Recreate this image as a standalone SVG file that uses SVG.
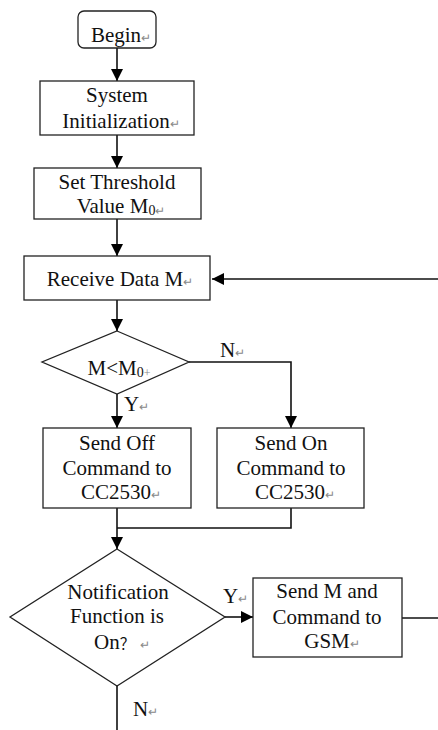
<svg xmlns="http://www.w3.org/2000/svg" width="438" height="730" viewBox="0 0 438 730">
<defs>
<marker id="ah" viewBox="0 0 12 12" refX="12" refY="6" markerWidth="12" markerHeight="12" markerUnits="userSpaceOnUse" orient="auto">
<path d="M0,0 L12,6 L0,12 Z" fill="#000"/>
</marker>
</defs>
<style>
.box{fill:#fff;stroke:#222;stroke-width:1.3}
.t{font-family:"Liberation Serif","Times New Roman",serif;font-size:21px;fill:#111;text-anchor:middle}
.lbl{font-family:"Liberation Serif","Times New Roman",serif;font-size:21px;fill:#111}
.cjk{font-family:"Noto Sans CJK SC",sans-serif;font-size:15px}
.pm{font-size:12px;fill:#888}
.sub{font-size:14px}
.c{fill:none;stroke:#111;stroke-width:1.6}
</style>
<rect width="438" height="730" fill="#fff"/>
<g id="connectors">
<line class="c" x1="117" y1="48" x2="117" y2="81" marker-end="url(#ah)"/>
<line class="c" x1="117" y1="135" x2="117" y2="168" marker-end="url(#ah)"/>
<line class="c" x1="117" y1="219" x2="117" y2="256" marker-end="url(#ah)"/>
<line class="c" x1="117" y1="300" x2="117" y2="331" marker-end="url(#ah)"/>
<line class="c" x1="117" y1="394" x2="117" y2="428" marker-end="url(#ah)"/>
<polyline class="c" points="189,362 291,362 291,428" marker-end="url(#ah)"/>
<polyline class="c" points="291,508 291,528 117,528"/>
<line class="c" x1="117" y1="508" x2="117" y2="549" marker-end="url(#ah)"/>
<line class="c" x1="225" y1="617" x2="253" y2="617" marker-end="url(#ah)"/>
<line class="c" x1="402" y1="618" x2="438" y2="618"/>
<line class="c" x1="438" y1="279" x2="212" y2="279" marker-end="url(#ah)"/>
<line class="c" x1="117" y1="686" x2="117" y2="730"/>
<text class="lbl" x="220" y="357">N<tspan class="pm">↵</tspan></text>
<text class="lbl" x="124" y="411">Y<tspan class="pm">↵</tspan></text>
<text class="lbl" x="223" y="603">Y<tspan class="pm">↵</tspan></text>
<text class="lbl" x="133" y="716">N<tspan class="pm">↵</tspan></text>
</g>
<g id="begin">
<rect class="box" x="78" y="11" width="78" height="37" rx="6"/>
<text class="t" x="121" y="42">Begin<tspan class="pm">↵</tspan></text>
</g>
<g id="init">
<rect class="box" x="40" y="81" width="154" height="54"/>
<text class="t" x="117" y="102">System</text>
<text class="t" x="121" y="128">Initialization<tspan class="pm">↵</tspan></text>
</g>
<g id="threshold">
<rect class="box" x="34" y="168" width="167" height="51"/>
<text class="t" x="117" y="189">Set Threshold</text>
<text class="t" x="121" y="213">Value M<tspan class="sub" dy="2">0</tspan><tspan class="pm">↵</tspan></text>
</g>
<g id="receive">
<rect class="box" x="24" y="256" width="186" height="44"/>
<text class="t" x="120" y="286">Receive Data M<tspan class="pm">↵</tspan></text>
</g>
<g id="compare">
<polygon class="box" points="117,331 189,362 117,394 42,362"/>
<text class="t" x="119" y="375">M&lt;M<tspan class="sub" dy="2">0</tspan><tspan class="pm">+</tspan></text>
</g>
<g id="sendoff">
<rect class="box" x="43" y="428" width="148" height="80"/>
<text class="t" x="117" y="450">Send Off</text>
<text class="t" x="117" y="475">Command to</text>
<text class="t" x="121" y="499">CC2530<tspan class="pm">↵</tspan></text>
</g>
<g id="sendon">
<rect class="box" x="217" y="428" width="147" height="80"/>
<text class="t" x="291" y="450">Send On</text>
<text class="t" x="291" y="475">Command to</text>
<text class="t" x="295" y="499">CC2530<tspan class="pm">↵</tspan></text>
</g>
<g id="notify">
<polygon class="box" points="117,549 225,617 117,686 10,617"/>
<text class="t" x="118" y="599">Notification</text>
<text class="t" x="117" y="623">Function is</text>
<text class="t" x="122" y="649">On<tspan class="cjk">？</tspan> <tspan class="pm">↵</tspan></text>
</g>
<g id="gsm">
<rect class="box" x="253" y="578" width="149" height="79"/>
<text class="t" x="327" y="598">Send M and</text>
<text class="t" x="327" y="624">Command to</text>
<text class="t" x="332" y="648">GSM<tspan class="pm">↵</tspan></text>
</g>
</svg>
